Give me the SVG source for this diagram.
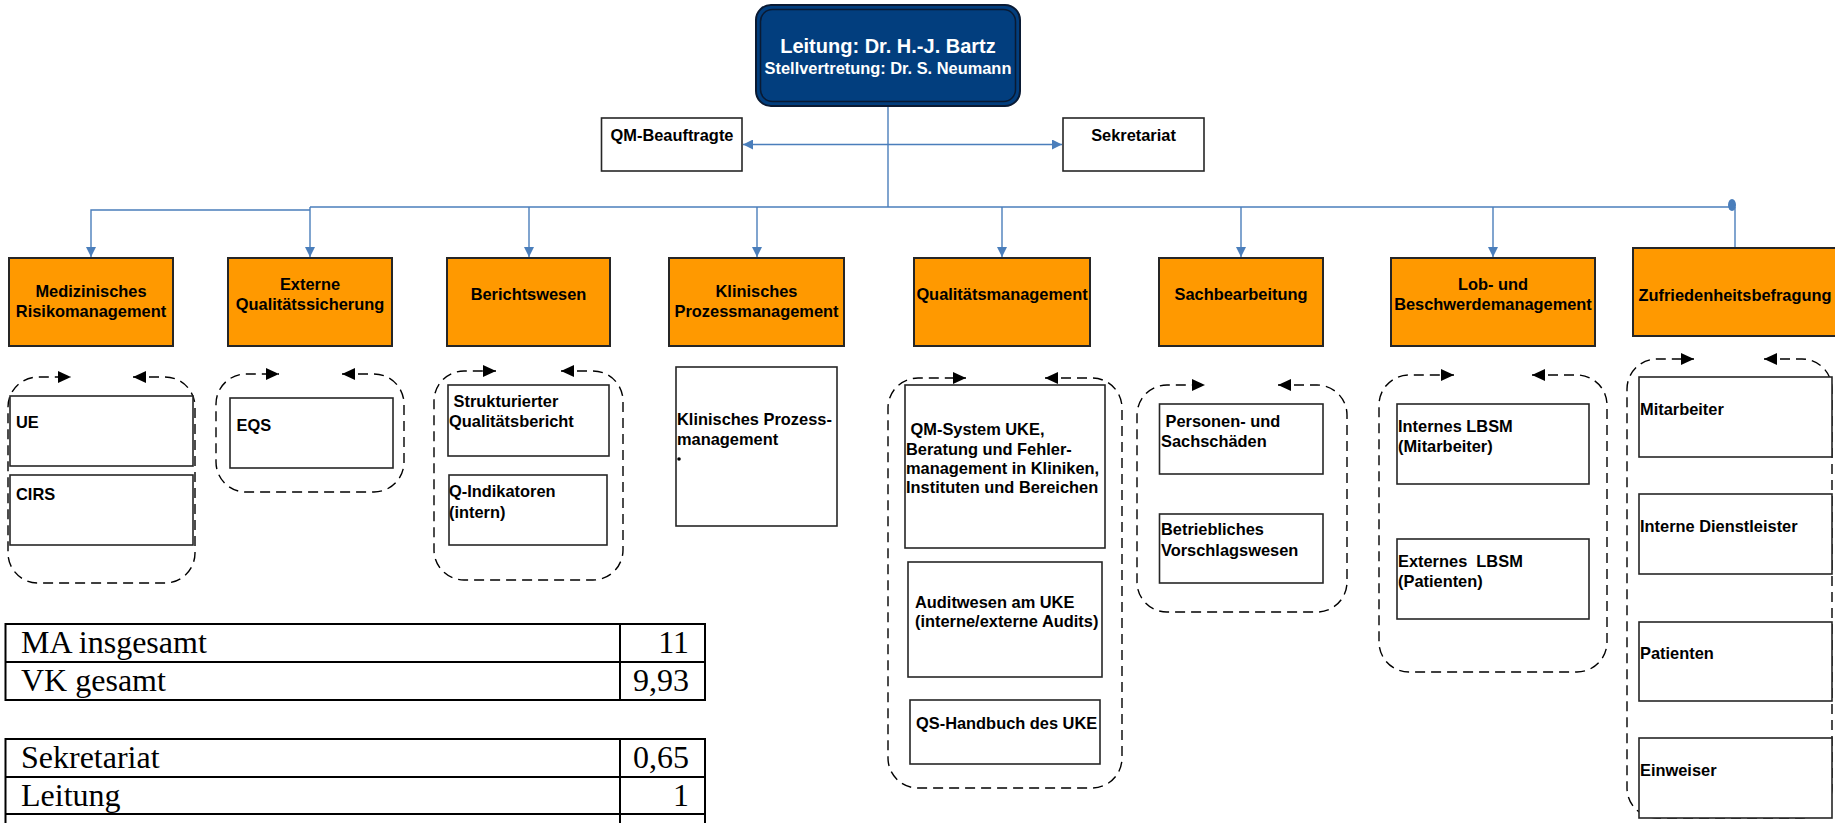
<svg xmlns="http://www.w3.org/2000/svg" width="1835" height="823" viewBox="0 0 1835 823">
<style>
.t{font-family:"Liberation Sans",Arial,sans-serif;font-weight:bold;font-size:16.4px;fill:#000}
.c{text-anchor:middle}
.ob{fill:#FF9900;stroke:#262626;stroke-width:2}
.wb{fill:#fff;stroke:#262626;stroke-width:1.6}
.con{fill:none;stroke:#4A7EBB;stroke-width:1.4}
.dash{fill:none;stroke:#000;stroke-width:1.4;stroke-dasharray:10 6}
.tbl{fill:none;stroke:#000;stroke-width:2}
.s{font-family:"Liberation Serif","Times New Roman",serif;font-size:32px;fill:#000}
</style>
<defs>
<marker id="ba" markerUnits="userSpaceOnUse" markerWidth="10" markerHeight="10" refX="10" refY="5" orient="auto-start-reverse"><path d="M0,0 L10,5 L0,10 z" fill="#4A7EBB"/></marker>
<marker id="ka" markerUnits="userSpaceOnUse" markerWidth="14" markerHeight="12" refX="13" refY="6" orient="auto-start-reverse"><path d="M0,0 L13,6 L0,12 z" fill="#000"/></marker>
</defs>
<rect width="1835" height="823" fill="#fff"/>

<g id="connectors">
<line class="con" x1="888" y1="105" x2="888" y2="207"/>
<line class="con" x1="743" y1="144.5" x2="1062" y2="144.5" marker-start="url(#ba)" marker-end="url(#ba)"/>
<line class="con" x1="310" y1="207" x2="1732" y2="207"/>
<path class="con" d="M310,210 H91 V257" marker-end="url(#ba)"/>
<line class="con" x1="310" y1="207" x2="310" y2="257" marker-end="url(#ba)"/>
<line class="con" x1="529" y1="207" x2="529" y2="257" marker-end="url(#ba)"/>
<line class="con" x1="757" y1="207" x2="757" y2="257" marker-end="url(#ba)"/>
<line class="con" x1="1002" y1="207" x2="1002" y2="257" marker-end="url(#ba)"/>
<line class="con" x1="1241" y1="207" x2="1241" y2="257" marker-end="url(#ba)"/>
<line class="con" x1="1493" y1="207" x2="1493" y2="257" marker-end="url(#ba)"/>
<line class="con" x1="1735" y1="207" x2="1735" y2="248"/>
<ellipse cx="1732" cy="205" rx="4" ry="6" fill="#4A7EBB"/>
</g>

<g id="leitung">
<rect x="756" y="5" width="264" height="101" rx="15" fill="#023E7E" stroke="#0A1A33" stroke-width="2"/>
<rect x="760.5" y="9.5" width="255" height="92" rx="12" fill="none" stroke="#0A1A33" stroke-width="1.5"/>
<text class="t c" x="888" y="53" style="font-size:20px;fill:#fff">Leitung: Dr. H.-J. Bartz</text>
<text class="t c" x="888" y="74" style="fill:#fff">Stellvertretung: Dr. S. Neumann</text>
</g>

<g id="qm-beauftragte">
<rect class="wb" x="601.5" y="118" width="140.5" height="53"/>
<text class="t c" x="672" y="141">QM-Beauftragte</text>
</g>
<g id="sekretariat">
<rect class="wb" x="1063" y="118" width="141" height="53"/>
<text class="t c" x="1133.5" y="141">Sekretariat</text>
</g>

<g id="med-risiko">
<rect class="ob" x="9" y="258" width="164" height="88"/>
<text class="t c" x="91" y="297">Medizinisches</text>
<text class="t c" x="91" y="317">Risikomanagement</text>
</g>
<g id="externe-qs">
<rect class="ob" x="228" y="258" width="164" height="88"/>
<text class="t c" x="310" y="290">Externe</text>
<text class="t c" x="310" y="310">Qualitätssicherung</text>
</g>
<g id="berichtswesen">
<rect class="ob" x="447" y="258" width="163" height="88"/>
<text class="t c" x="528.5" y="300">Berichtswesen</text>
</g>
<g id="klinisches-pm">
<rect class="ob" x="669" y="258" width="175" height="88"/>
<text class="t c" x="756.5" y="297">Klinisches</text>
<text class="t c" x="756.5" y="317">Prozessmanagement</text>
</g>
<g id="qualitaetsmanagement">
<rect class="ob" x="914" y="258" width="176" height="88"/>
<text class="t c" x="1002" y="300">Qualitätsmanagement</text>
</g>
<g id="sachbearbeitung">
<rect class="ob" x="1159" y="258" width="164" height="88"/>
<text class="t c" x="1241" y="300">Sachbearbeitung</text>
</g>
<g id="lob-beschwerde">
<rect class="ob" x="1391" y="258" width="204" height="88"/>
<text class="t c" x="1493" y="290">Lob- und</text>
<text class="t c" x="1493" y="310">Beschwerdemanagement</text>
</g>
<g id="zufriedenheit">
<rect class="ob" x="1633" y="248" width="210" height="88"/>
<text class="t c" x="1735" y="301">Zufriedenheitsbefragung</text>
</g>

<g id="group-med">
<path class="dash" d="M133,377 H165 A30,30 0 0 1 195,407 V553 A30,30 0 0 1 165,583 H38 A30,30 0 0 1 8,553 V407 A30,30 0 0 1 38,377 H71" marker-start="url(#ka)" marker-end="url(#ka)"/>
<g id="ue"><rect class="wb" x="10" y="396" width="183" height="70"/><text class="t" x="16" y="428">UE</text></g>
<g id="cirs"><rect class="wb" x="10" y="475" width="183" height="70"/><text class="t" x="16" y="500">CIRS</text></g>
</g>

<g id="group-eqs">
<path class="dash" d="M342,374 H374 A30,30 0 0 1 404,404 V462 A30,30 0 0 1 374,492 H246 A30,30 0 0 1 216,462 V404 A30,30 0 0 1 246,374 H279" marker-start="url(#ka)" marker-end="url(#ka)"/>
<g id="eqs"><rect class="wb" x="230" y="398" width="163" height="70"/><text class="t" x="236.5" y="431">EQS</text></g>
</g>

<g id="group-bericht">
<path class="dash" d="M561,371 H593 A30,30 0 0 1 623,401 V550 A30,30 0 0 1 593,580 H464 A30,30 0 0 1 434,550 V401 A30,30 0 0 1 464,371 H496" marker-start="url(#ka)" marker-end="url(#ka)"/>
<g id="qualitaetsbericht"><rect class="wb" x="448" y="385" width="161" height="71"/><text class="t" x="449" y="407" xml:space="preserve"> Strukturierter</text><text class="t" x="449" y="427">Qualitätsbericht</text></g>
<g id="q-indikatoren"><rect class="wb" x="449" y="475" width="158" height="70"/><text class="t" x="449" y="497">Q-Indikatoren</text><text class="t" x="449" y="518">(intern)</text></g>
</g>

<g id="klinisches-prozess">
<rect class="wb" x="676" y="367" width="161" height="159"/>
<text class="t" x="677" y="425">Klinisches Prozess-</text>
<text class="t" x="677" y="445">management</text>
<circle cx="679" cy="459" r="1.8" fill="#000"/>
</g>

<g id="group-qm">
<path class="dash" d="M1045,378 H1092 A30,30 0 0 1 1122,408 V758 A30,30 0 0 1 1092,788 H918 A30,30 0 0 1 888,758 V408 A30,30 0 0 1 918,378 H966" marker-start="url(#ka)" marker-end="url(#ka)"/>
<g id="qm-system"><rect class="wb" x="905" y="385" width="200" height="163"/>
<text class="t" x="906" y="435" xml:space="preserve"> QM-System UKE,</text>
<text class="t" x="906" y="455">Beratung und Fehler-</text>
<text class="t" x="906" y="474">management in Kliniken,</text>
<text class="t" x="906" y="493">Instituten und Bereichen</text></g>
<g id="auditwesen"><rect class="wb" x="908" y="562" width="194" height="115"/>
<text class="t" x="915" y="608">Auditwesen am UKE</text>
<text class="t" x="915" y="627">(interne/externe Audits)</text></g>
<g id="qs-handbuch"><rect class="wb" x="910" y="700" width="190" height="64"/>
<text class="t" x="916" y="729">QS-Handbuch des UKE</text></g>
</g>

<g id="group-sach">
<path class="dash" d="M1278,385 H1317 A30,30 0 0 1 1347,415 V582 A30,30 0 0 1 1317,612 H1167 A30,30 0 0 1 1137,582 V415 A30,30 0 0 1 1167,385 H1205" marker-start="url(#ka)" marker-end="url(#ka)"/>
<g id="personen"><rect class="wb" x="1159.5" y="404" width="163.5" height="70"/>
<text class="t" x="1161" y="427" xml:space="preserve"> Personen- und</text>
<text class="t" x="1161" y="447">Sachschäden</text></g>
<g id="vorschlagswesen"><rect class="wb" x="1159.5" y="514" width="163.5" height="69"/>
<text class="t" x="1161" y="535">Betriebliches</text>
<text class="t" x="1161" y="556">Vorschlagswesen</text></g>
</g>

<g id="group-lob">
<path class="dash" d="M1532,375 H1577 A30,30 0 0 1 1607,405 V642 A30,30 0 0 1 1577,672 H1409 A30,30 0 0 1 1379,642 V405 A30,30 0 0 1 1409,375 H1454" marker-start="url(#ka)" marker-end="url(#ka)"/>
<g id="internes-lbsm"><rect class="wb" x="1397" y="404" width="192" height="80"/>
<text class="t" x="1398" y="432">Internes LBSM</text>
<text class="t" x="1398" y="452">(Mitarbeiter)</text></g>
<g id="externes-lbsm"><rect class="wb" x="1397" y="539" width="192" height="80"/>
<text class="t" x="1398" y="567" xml:space="preserve">Externes  LBSM</text>
<text class="t" x="1398" y="587">(Patienten)</text></g>
</g>

<g id="group-zuf">
<path class="dash" d="M1764,359 H1802 A30,30 0 0 1 1832,389 V788 A30,30 0 0 1 1802,818 H1657 A30,30 0 0 1 1627,788 V389 A30,30 0 0 1 1657,359 H1694" marker-start="url(#ka)" marker-end="url(#ka)"/>
<g id="mitarbeiter"><rect class="wb" x="1639" y="377" width="193" height="80"/><text class="t" x="1640" y="415">Mitarbeiter</text></g>
<g id="dienstleister"><rect class="wb" x="1639" y="494" width="193" height="80"/><text class="t" x="1640" y="532">Interne Dienstleister</text></g>
<g id="patienten"><rect class="wb" x="1639" y="622" width="193" height="79"/><text class="t" x="1640" y="659">Patienten</text></g>
<g id="einweiser"><rect class="wb" x="1639" y="738" width="193" height="80"/><text class="t" x="1640" y="776">Einweiser</text></g>
</g>

<g id="table-gesamt">
<rect class="tbl" x="5.5" y="624" width="699.5" height="76"/>
<line class="tbl" x1="5.5" y1="662" x2="705" y2="662"/>
<line class="tbl" x1="620" y1="624" x2="620" y2="700"/>
<text class="s" x="21" y="653">MA insgesamt</text>
<text class="s" x="689" y="653" text-anchor="end">11</text>
<text class="s" x="21" y="691">VK gesamt</text>
<text class="s" x="689" y="691" text-anchor="end">9,93</text>
</g>

<g id="table-stellen">
<path class="tbl" d="M5.5,850 V739 H705 V850 M5.5,777 H705 M5.5,814 H705 M620,739 V850"/>
<text class="s" x="21" y="768">Sekretariat</text>
<text class="s" x="689" y="768" text-anchor="end">0,65</text>
<text class="s" x="21" y="806">Leitung</text>
<text class="s" x="689" y="806" text-anchor="end">1</text>
</g>
</svg>
